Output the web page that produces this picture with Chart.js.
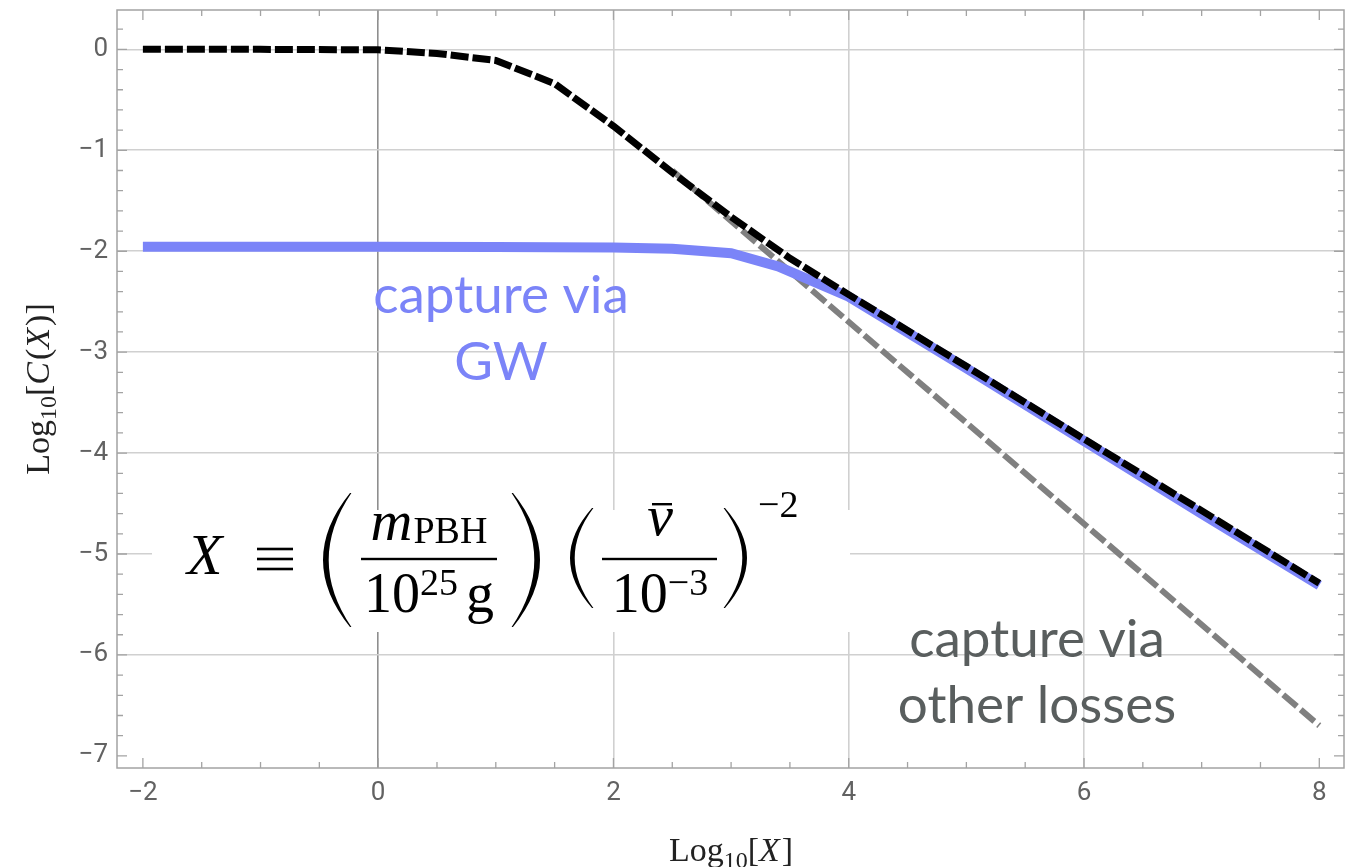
<!DOCTYPE html>
<html>
<head>
<meta charset="utf-8">
<script src="https://cdn.jsdelivr.net/npm/chart.js@4"></script>
<style>
  html, body { margin: 0; padding: 0; background: #fff; }
</style>
</head>
<body>
<canvas id="capChart" width="1359" height="867"></canvas>
<script>
// --- Data (log10 X  vs  log10 C(X)) ---
const xTicks = [-2, 0, 2, 4, 6, 8];
const yTicks = [-7, -6, -5, -4, -3, -2, -1, 0];

// total capture (black dashed)
const totalX = [-2, -1, 0, 0.5, 1, 1.5, 2, 2.5, 3, 3.5, 4, 5, 6, 7, 8];
const totalY = [0, 0, -0.005, -0.04, -0.11, -0.34, -0.76, -1.22, -1.66, -2.07, -2.43, -3.14, -3.86, -4.57, -5.29];

// capture via GW (blue)
const gwX = [-2, 0, 1, 2, 2.5, 3, 3.4, 4, 5, 6, 7, 8];
const gwY = [-1.955, -1.955, -1.957, -1.962, -1.975, -2.02, -2.15, -2.45, -3.16, -3.88, -4.6, -5.31];

// capture via other losses (gray dashed)
const otherX = [2.5, 8];
const otherY = [-1.2, -6.7];

const BLUE = "#7b84f8";
const SERIF = '"Liberation Serif", "DejaVu Serif", serif';
const SANS = 'Lato, "Open Sans", sans-serif';

const pts = (xs, ys) => xs.map((x, i) => ({ x, y: ys[i] }));
const fmt = (v) => (v < 0 ? "\u2212" + Math.abs(v) : String(v));

// --- text helpers ---
function runsWidth(ctx, runs) {
  let w = 0;
  runs.forEach((r) => {
    ctx.font = r.font;
    w += ctx.measureText(r.t).width + (r.gap || 0);
  });
  return w;
}

function drawRuns(ctx, runs, cx, y) {
  let x = cx - runsWidth(ctx, runs) / 2;
  runs.forEach((r) => {
    ctx.font = r.font;
    ctx.fillText(r.t, x, y + (r.dy || 0));
    x += ctx.measureText(r.t).width + (r.gap || 0);
  });
}

// tall TeX-like parenthesis, s = -1 bulges left, s = 1 bulges right
function drawParen(ctx, xEnd, top, bottom, w, t, s) {
  const mid = (top + bottom) / 2;
  ctx.beginPath();
  ctx.moveTo(xEnd, top);
  ctx.quadraticCurveTo(xEnd + s * 2 * w, mid, xEnd, bottom);
  ctx.lineTo(xEnd - s * 1.4, bottom);
  ctx.quadraticCurveTo(xEnd + s * 2 * (w - t), mid, xEnd - s * 1.4, top);
  ctx.closePath();
  ctx.fill();
}

function fracBar(ctx, x1, x2, y) {
  ctx.fillRect(x1, y - 1.2, x2 - x1, 2.4);
}

// --- Equation box + axis titles + curve labels ---
const annotations = {
  id: "annotations",
  beforeDatasetsDraw(chart) {
    const ctx = chart.ctx;
    ctx.save();
    // white box behind the definition of X
    ctx.fillStyle = "#fff";
    ctx.fillRect(152, 510, 698, 122);

    ctx.fillStyle = "#000";
    ctx.textAlign = "left";
    ctx.textBaseline = "alphabetic";
    const big = `56px ${SERIF}`;
    const bigIt = `italic 58px ${SERIF}`;
    const small = `38px ${SERIF}`;

    ctx.font = `italic 58px ${SERIF}`;
    ctx.fillText("X", 187, 574);
    // identity sign as three bars
    [549, 559, 569].forEach((y) => ctx.fillRect(257, y - 1.3, 36, 2.6));

    // (m_PBH / 10^25 g)
    drawParen(ctx, 350, 493, 627, 27, 5, -1);
    drawRuns(ctx, [{ t: "m", font: bigIt, gap: 1 }, { t: "PBH", font: small, dy: 3 }], 429, 540);
    fracBar(ctx, 361, 497, 559);
    drawRuns(ctx, [{ t: "10", font: big }, { t: "25", font: small, dy: -17, gap: 8 }, { t: "g", font: big }], 429, 612);
    drawParen(ctx, 513, 493, 627, 27, 5, 1);

    // (v̄ / 10^-3)^-2
    drawParen(ctx, 592, 508, 608, 22, 4, -1);
    ctx.font = bigIt;
    const vw = ctx.measureText("v").width;
    ctx.fillText("v", 660 - vw / 2, 535);
    ctx.fillRect(652, 503, 20, 2.4);
    fracBar(ctx, 602, 717, 559);
    drawRuns(ctx, [{ t: "10", font: big }, { t: "\u22123", font: small, dy: -17 }], 660, 612);
    drawParen(ctx, 725, 508, 608, 22, 4, 1);
    ctx.font = small;
    ctx.fillText("\u22122", 758, 517);

    // axis titles
    ctx.fillStyle = "#222";
    const tf = `34px ${SERIF}`;
    const tfIt = `italic 34px ${SERIF}`;
    const sub = `24px ${SERIF}`;
    drawRuns(ctx, [
      { t: "Log", font: tf },
      { t: "10", font: sub, dy: 7 },
      { t: "[", font: tf },
      { t: "X", font: tfIt, gap: 2 },
      { t: "]", font: tf },
    ], 731, 861);

    ctx.save();
    ctx.translate(49, 389);
    ctx.rotate(-Math.PI / 2);
    drawRuns(ctx, [
      { t: "Log", font: tf },
      { t: "10", font: sub, dy: 7 },
      { t: "[", font: tf },
      { t: "C", font: tfIt, gap: 2 },
      { t: "(", font: tf },
      { t: "X", font: tfIt, gap: 2 },
      { t: ")", font: tf },
      { t: "]", font: tf },
    ], 0, 0);
    ctx.restore();

    // curve labels
    ctx.textAlign = "center";
    ctx.font = `53px ${SANS}`;
    ctx.fillStyle = BLUE;
    ctx.fillText("capture via", 501, 313);
    ctx.fillText("GW", 501, 380);
    ctx.fillStyle = "#595e5e";
    ctx.fillText("capture via", 1037, 657);
    ctx.fillText("other losses", 1037, 723);
    ctx.restore();
  },

  // frame with inward major/minor ticks
  afterDatasetsDraw(chart) {
    const ctx = chart.ctx;
    const a = chart.chartArea;
    const xs = chart.scales.x;
    const ys = chart.scales.y;
    ctx.save();
    ctx.strokeStyle = "#a3a3a3";
    ctx.lineWidth = 1.5;
    ctx.strokeRect(a.left, a.top, a.right - a.left, a.bottom - a.top);
    ctx.lineWidth = 1.3;
    ctx.beginPath();
    for (let i = -4; i <= 16; i++) {
      const v = i / 2;
      if (v < xs.min || v > xs.max) continue;
      const px = xs.getPixelForValue(v);
      const len = i % 4 === 0 ? 10 : 6;
      ctx.moveTo(px, a.bottom); ctx.lineTo(px, a.bottom - len);
      ctx.moveTo(px, a.top); ctx.lineTo(px, a.top + len);
    }
    for (let i = -35; i <= 1; i++) {
      const v = i / 5;
      if (v < ys.min || v > ys.max) continue;
      const py = ys.getPixelForValue(v);
      const len = i % 5 === 0 ? 10 : 6;
      ctx.moveTo(a.left, py); ctx.lineTo(a.left + len, py);
      ctx.moveTo(a.right, py); ctx.lineTo(a.right - len, py);
    }
    ctx.stroke();
    ctx.restore();
  },
};

const ctx = document.getElementById("capChart").getContext("2d");

const capChart = new Chart(ctx, {
  type: "scatter",
  data: {
    datasets: [
      {
        label: "total",
        data: pts(totalX, totalY),
        showLine: true,
        borderColor: "#000",
        borderWidth: 7,
        borderDash: [18, 4],
        borderCapStyle: "butt",
        pointRadius: 0,
        tension: 0,
      },
      {
        label: "capture via GW",
        data: pts(gwX, gwY),
        showLine: true,
        borderColor: BLUE,
        borderWidth: 10,
        borderCapStyle: "butt",
        pointRadius: 0,
        tension: 0,
      },
      {
        label: "capture via other losses",
        data: pts(otherX, otherY),
        showLine: true,
        borderColor: "#808080",
        borderWidth: 6,
        borderDash: [18, 5],
        borderCapStyle: "butt",
        pointRadius: 0,
        tension: 0,
      },
    ],
  },
  options: {
    responsive: false,
    animation: false,
    devicePixelRatio: 1,
    layout: { autoPadding: false, padding: { top: 10, right: 15, left: 0, bottom: 0 } },
    plugins: {
      legend: { display: false },
      tooltip: { enabled: false },
    },
    scales: {
      x: {
        type: "linear",
        min: -2.22,
        max: 8.21,
        afterBuildTicks: (s) => { s.ticks = xTicks.map((v) => ({ value: v })); },
        afterFit: (s) => {
          s.height = 99;
          s.paddingLeft = 0;
          s.paddingRight = 0;
        },
        border: { display: false },
        grid: {
          drawTicks: false,
          lineWidth: 1.6,
          color: (c) => {
            const v = c.tick && c.tick.value;
            if (v === 0) return "#8e8e8e";
            if (v === -2 || v === 8) return "rgba(0,0,0,0)";
            return "#d0d0d0";
          },
        },
        ticks: {
          padding: 10,
          color: "#626262",
          font: { family: "Roboto", size: 26 },
          callback: fmt,
          autoSkip: false,
          maxRotation: 0,
        },
      },
      y: {
        type: "linear",
        min: -7.12,
        max: 0.39,
        afterBuildTicks: (s) => { s.ticks = yTicks.map((v) => ({ value: v })); },
        afterFit: (s) => {
          s.width = 117;
          s.paddingTop = 0;
          s.paddingBottom = 0;
        },
        border: { display: false },
        grid: {
          drawTicks: false,
          lineWidth: 1.6,
          color: (c) => (c.tick && c.tick.value === -7 ? "rgba(0,0,0,0)" : "#d0d0d0"),
        },
        ticks: {
          padding: 9,
          color: "#626262",
          font: { family: "Roboto", size: 26 },
          callback: fmt,
          autoSkip: false,
        },
      },
    },
  },
  plugins: [annotations],
});
</script>
</body>
</html>
